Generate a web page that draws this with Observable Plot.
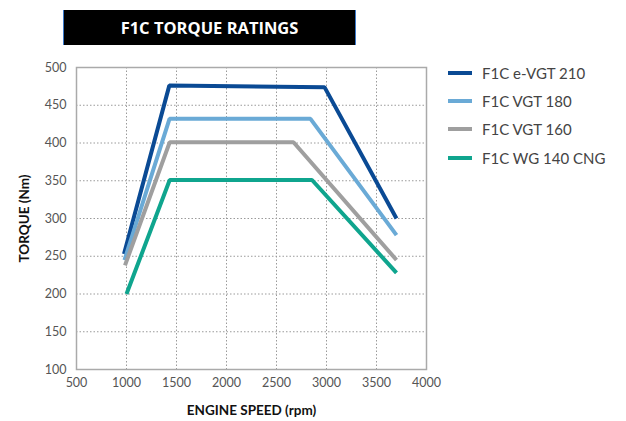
<!DOCTYPE html>
<html>
<head>
<meta charset="utf-8">
<script src="https://cdn.jsdelivr.net/npm/d3@7"></script>
<script src="https://cdn.jsdelivr.net/npm/@observablehq/plot@0.6"></script>
<style>
  body { margin: 0; background: #fff; }
  #wrap { position: relative; width: 626px; height: 421px; font-family: Lato, "Open Sans", sans-serif; }
  #title { position: absolute; left: 63px; top: 10px; width: 293px; height: 35px; background: #000;
    border-left: 1px solid #3a78c9; border-right: 1px solid #3a78c9; box-sizing: border-box;
    color: #fff; font-family: "Open Sans", sans-serif; font-weight: 700; font-size: 16.5px;
    display: flex; align-items: center; justify-content: center; }
  #legend { position: absolute; left: 448px; top: 58.5px; }
  .item { display: flex; align-items: center; height: 28.3px; font-size: 15px; color: #444; }
  .sw { width: 24px; height: 4px; margin-right: 10px; }
  #chart { position: absolute; left: 0; top: 0; }
</style>
</head>
<body>
<div id="wrap">
  <div id="chart"></div>
  <div id="title">F1C TORQUE RATINGS</div>
  <div id="legend"></div>
</div>
<script>
const series = ["F1C e-VGT 210", "F1C VGT 180", "F1C VGT 160", "F1C WG 140 CNG"];
const colors = ["#0a4a94", "#6aaad6", "#9f9f9f", "#0fa58e"];
const rpmEVGT210 = [975, 1428, 2980, 3700];
const torqueEVGT210 = [253, 476, 474, 300];
const rpmVGT180 = [980, 1430, 2840, 3700];
const torqueVGT180 = [245, 432, 432, 278];
const rpmVGT160 = [985, 1432, 2670, 3700];
const torqueVGT160 = [238, 401, 401, 245];
const rpmWG140 = [1000, 1432, 2855, 3700];
const torqueWG140 = [200, 351, 351, 228];
const xTicks = [500, 1000, 1500, 2000, 2500, 3000, 3500, 4000];
const yTicks = [100, 150, 200, 250, 300, 350, 400, 450, 500];

const rpms = [rpmEVGT210, rpmVGT180, rpmVGT160, rpmWG140];
const torques = [torqueEVGT210, torqueVGT180, torqueVGT160, torqueWG140];
const rows = [];
series.forEach((s, i) => rpms[i].forEach((r, j) => rows.push({series: s, rpm: r, torque: torques[i][j]})));

const plot = Plot.plot({
  width: 626,
  height: 421,
  marginLeft: 76,
  marginRight: 200,
  marginTop: 67,
  marginBottom: 52,
  style: { fontFamily: "Lato, sans-serif", fontSize: "12px", color: "#555", background: "transparent" },
  x: { domain: [500, 4000] },
  y: { domain: [100, 500] },
  color: { domain: series, range: colors },
  marks: [
    Plot.gridX(xTicks, { stroke: "#9a9a9a", strokeOpacity: 1, strokeDasharray: "1.5,2" }),
    Plot.gridY(yTicks, { stroke: "#9a9a9a", strokeOpacity: 1, strokeDasharray: "1.5,2" }),
    Plot.frame({ stroke: "#aaaaaa", strokeWidth: 1.5 }),
    Plot.axisX(xTicks, { tickSize: 0, tickPadding: 9, fill: "#555", fontSize: 12.5, tickFormat: d => String(d),
      label: "ENGINE SPEED (rpm)", labelAnchor: "center", labelArrow: "none", labelOffset: 45 }),
    Plot.axisY(yTicks, { tickSize: 0, tickPadding: 10, fill: "#555", fontSize: 12.5, tickFormat: d => String(d),
      label: "TORQUE (Nm)", labelAnchor: "center", labelArrow: "none", labelOffset: 57 }),
    Plot.line(rows, { x: "rpm", y: "torque", z: "series", stroke: "series", strokeWidth: 4,
      strokeLinejoin: "miter", strokeLinecap: "butt" })
  ]
});
d3.select(plot).selectAll("[aria-label='x-axis label'] text, [aria-label='y-axis label'] text")
  .attr("fill", "#111").attr("font-weight", "bold").attr("font-size", 13.5);
document.getElementById("chart").appendChild(plot);

const legend = document.getElementById("legend");
series.forEach((s, i) => {
  const it = document.createElement("div");
  it.className = "item";
  const sw = document.createElement("div");
  sw.className = "sw";
  sw.style.background = colors[i];
  const t = document.createElement("span");
  t.textContent = s;
  it.appendChild(sw); it.appendChild(t);
  legend.appendChild(it);
});
</script>
</body>
</html>
